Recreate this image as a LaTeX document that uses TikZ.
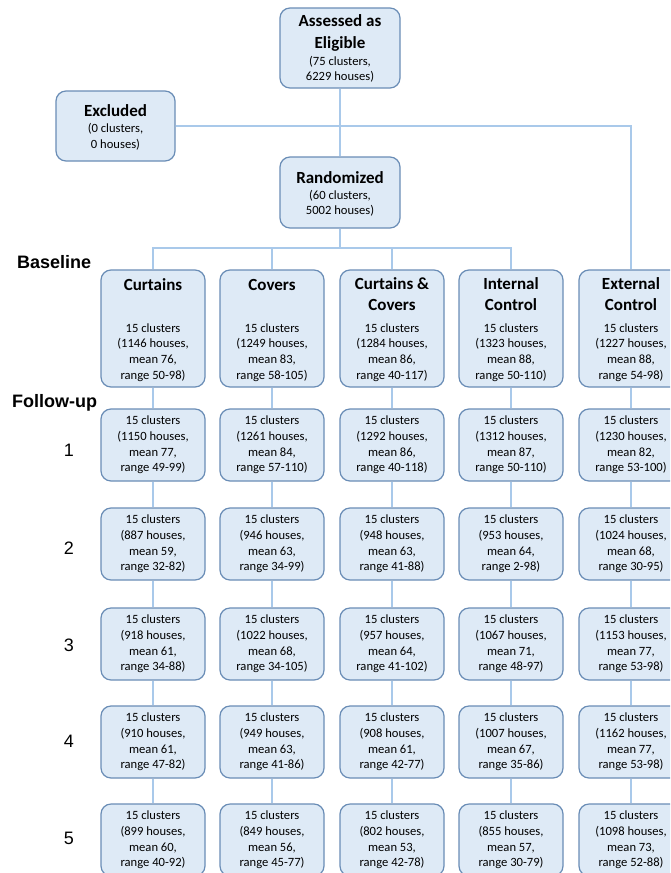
\documentclass[tikz,border=0pt]{standalone}
\usepackage{fontspec}
\setmainfont{Carlito}
\newfontfamily\labfont{Liberation Sans}
\definecolor{boxfill}{HTML}{DEEAF6}
\definecolor{boxline}{HTML}{6A8DB6}
\definecolor{connline}{HTML}{A9C9EA}
\newcommand{\fubox}[6]{\node[fbox] (#1) at (#2,#3) {15 clusters\\(#4 houses,\\mean #5,\\range #6)};}
\begin{document}
\begin{tikzpicture}[x=1pt,y=-1pt,
  box/.style={draw=boxline, fill=boxfill, line width=1.2pt, rounded corners=10pt, inner sep=0pt},
  fbox/.style={box, minimum width=104pt, minimum height=72pt, font=\fontsize{12.6}{15.6}\selectfont, align=center},
  bbox/.style={box, minimum width=104pt, minimum height=117pt},
  ttl/.style={font=\fontsize{17}{20.5}\selectfont\bfseries, align=center, inner sep=0pt},
  sub/.style={font=\fontsize{12.6}{15.6}\selectfont, align=center, inner sep=0pt},
  conn/.style={draw=connline, line width=1.3pt},
  lab/.style={font=\labfont\fontsize{18}{20}\selectfont\bfseries, inner sep=0pt},
  num/.style={font=\labfont\fontsize{18}{20}\selectfont, inner sep=0pt}]
\clip (0,0) rectangle (670,873);
\fill[white] (0,0) rectangle (670,873);

% top boxes
\node[box, minimum width=120pt, minimum height=80pt] (ass) at (340,48) {};
\node[ttl, font=\fontsize{17}{22}\selectfont\bfseries] (asst) at (340,33) {Assessed as\\Eligible};
\node[sub, font=\fontsize{12.6}{15}\selectfont] (asss) at (340,69.5) {(75 clusters,\\6229 houses)};

\node[box, minimum width=119pt, minimum height=70pt] (exc) at (115.5,126) {};
\node[ttl] (exct) at (115.5,111) {Excluded};
\node[sub, font=\fontsize{12.6}{16}\selectfont] (excs) at (115.5,137) {(0 clusters,\\0 houses)};

\node[box, minimum width=120pt, minimum height=71pt] (rnd) at (340,192.5) {};
\node[ttl] (rndt) at (340,178) {Randomized};
\node[sub, font=\fontsize{12.6}{15}\selectfont] (rnds) at (340,203.5) {(60 clusters,\\5002 houses)};

% baseline boxes
\node[bbox] (b1) at (153,328.5) {};
\node[bbox] (b2) at (272,328.5) {};
\node[bbox] (b3) at (392,328.5) {};
\node[bbox] (b4) at (511,328.5) {};
\node[bbox] (b5) at (631,328.5) {};
\node[ttl] (b1t) at (153,285) {Curtains};
\node[ttl] (b2t) at (272,285) {Covers};
\node[ttl] (b3t) at (392,294) {Curtains \&\\Covers};
\node[ttl] (b4t) at (511,294) {Internal\\Control};
\node[ttl] (b5t) at (631,294) {External\\Control};
\node[sub] (b1s) at (153,352.5) {15 clusters\\(1146 houses,\\mean 76,\\range 50-98)};
\node[sub] (b2s) at (272,352.5) {15 clusters\\(1249 houses,\\mean 83,\\range 58-105)};
\node[sub] (b3s) at (392,352.5) {15 clusters\\(1284 houses,\\mean 86,\\range 40-117)};
\node[sub] (b4s) at (511,352.5) {15 clusters\\(1323 houses,\\mean 88,\\range 50-110)};
\node[sub] (b5s) at (631,352.5) {15 clusters\\(1227 houses,\\mean 88,\\range 54-98)};

% follow-up rows
\fubox{r1c1}{153}{445}{1150}{77}{49-99}
\fubox{r1c2}{272}{445}{1261}{84}{57-110}
\fubox{r1c3}{392}{445}{1292}{86}{40-118}
\fubox{r1c4}{511}{445}{1312}{87}{50-110}
\fubox{r1c5}{631}{445}{1230}{82}{53-100}

\fubox{r2c1}{153}{544}{887}{59}{32-82}
\fubox{r2c2}{272}{544}{946}{63}{34-99}
\fubox{r2c3}{392}{544}{948}{63}{41-88}
\fubox{r2c4}{511}{544}{953}{64}{2-98}
\fubox{r2c5}{631}{544}{1024}{68}{30-95}

\fubox{r3c1}{153}{644}{918}{61}{34-88}
\fubox{r3c2}{272}{644}{1022}{68}{34-105}
\fubox{r3c3}{392}{644}{957}{64}{41-102}
\fubox{r3c4}{511}{644}{1067}{71}{48-97}
\fubox{r3c5}{631}{644}{1153}{77}{53-98}

\fubox{r4c1}{153}{742}{910}{61}{47-82}
\fubox{r4c2}{272}{742}{949}{63}{41-86}
\fubox{r4c3}{392}{742}{908}{61}{42-77}
\fubox{r4c4}{511}{742}{1007}{67}{35-86}
\fubox{r4c5}{631}{742}{1162}{77}{53-98}

\fubox{r5c1}{153}{840}{899}{60}{40-92}
\fubox{r5c2}{272}{840}{849}{56}{45-77}
\fubox{r5c3}{392}{840}{802}{53}{42-78}
\fubox{r5c4}{511}{840}{855}{57}{30-79}
\fubox{r5c5}{631}{840}{1098}{73}{52-88}

% side labels
\node[lab, anchor=west] (lbase) at (17,262) {Baseline};
\node[lab, anchor=west] (lfu) at (12,403) {Follow-up};
\node[num] (n1) at (69,450) {1};
\node[num] (n2) at (69,548) {2};
\node[num] (n3) at (69,645) {3};
\node[num] (n4) at (69,741) {4};
\node[num] (n5) at (69,838) {5};

% connectors
\coordinate (split) at (340,248);
\coordinate (exline) at (631,126);
\draw[conn] (ass.south) -- (rnd.north);
\draw[conn] (exc.east) -- (exline) -- (b5.north);
\draw[conn] (rnd.south) -- (split);
\draw[conn] (b1.north) |- (split);
\draw[conn] (b2.north) |- (split);
\draw[conn] (b3.north) |- (split);
\draw[conn] (b4.north) |- (split);
\foreach \c in {1,...,5}{
  \draw[conn] (b\c.south) -- (r1c\c.north);
  \draw[conn] (r1c\c.south) -- (r2c\c.north);
  \draw[conn] (r2c\c.south) -- (r3c\c.north);
  \draw[conn] (r3c\c.south) -- (r4c\c.north);
  \draw[conn] (r4c\c.south) -- (r5c\c.north);
}
\end{tikzpicture}
\end{document}
